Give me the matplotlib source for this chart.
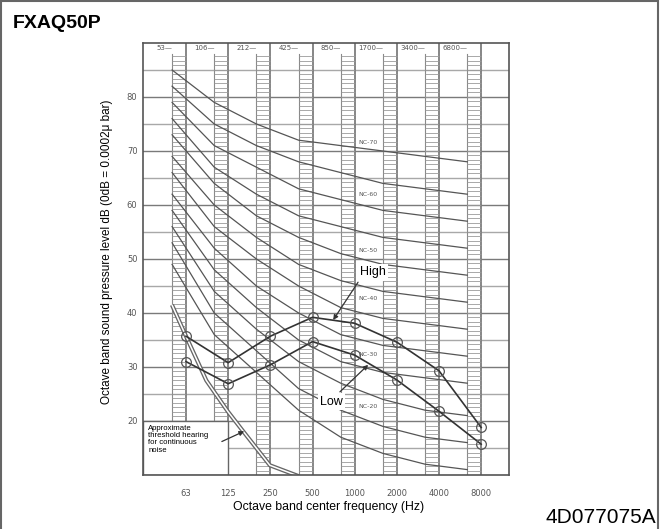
import matplotlib as mpl
mpl.use('Agg')
import matplotlib.pyplot as plt
from matplotlib.patches import Rectangle
import numpy as np

# octave band centre frequencies (Hz)
bands = ['63', '125', '250', '500', '1000', '2000', '4000', '8000']
band_edges = ['53', '106', '212', '425', '850', '1700', '3400', '6800']

# unit sound levels (dB)
high = [35.7, 30.8, 35.7, 39.2, 38.1, 34.6, 29.3, 18.8]
low = [31.0, 26.9, 30.4, 34.7, 32.2, 27.6, 21.8, 15.7]

# NC reference curves, one row per band value set
nc_names = [15, 20, 25, 30, 35, 40, 45, 50, 55, 60, 65, 70]
nc_values = [
    [49, 36, 29, 22, 17, 14, 12, 11],
    [53, 40, 33, 26, 22, 19, 17, 16],
    [56, 44, 37, 31, 27, 24, 22, 21],
    [59, 48, 41, 35, 31, 29, 28, 27],
    [62, 52, 45, 40, 36, 34, 33, 32],
    [66, 56, 50, 45, 41, 39, 38, 37],
    [69, 60, 54, 49, 46, 44, 43, 42],
    [73, 64, 58, 54, 51, 49, 48, 47],
    [76, 67, 62, 58, 56, 54, 53, 52],
    [79, 71, 67, 63, 61, 59, 58, 57],
    [82, 75, 71, 68, 66, 64, 63, 62],
    [85, 79, 75, 72, 71, 70, 69, 68],
]
nc_label_names = [70, 60, 50, 40, 30, 20]
nc_label_y = [71.6, 61.9, 51.6, 42.6, 32.3, 22.7]

# approximate threshold of hearing
thr_freq = [50, 63, 88, 125, 160, 250, 400]
thr_db = [41.5, 35.7, 27.5, 21.8, 18.2, 11.8, 9.8]

GREY = '#666666'
DARK = '#333333'
SANS = 'Liberation Sans'

fig = plt.figure(figsize=(6.64, 5.29), dpi=100)
ax = fig.add_axes([143/664, 1-475/529, 366/664, 432/529])

x = np.arange(len(bands))
sw = 0.33  # width of the hatched band strip
ax.set_xlim(-1.02, 7.66)
ax.set_ylim(10, 90)

# horizontal grid
for v in range(15, 90, 5):
    c = '#7a7a7a' if v % 10 == 0 else '#a8a8a8'
    ax.axhline(v, color=c, lw=1.0, zorder=1)

# band strips (ladders)
rungs = np.arange(10, 88, 5/6)
for i in x:
    ax.axvline(i, color=GREY, lw=1.1, zorder=2)
    ax.plot([i-sw, i-sw], [10, 88], color='#8a8a8a', lw=0.8, zorder=2)
    ax.hlines(rungs, i-sw, i, color='#9a9a9a', lw=0.6, zorder=2)
    ax.text(i-sw, 89, band_edges[i] + '\u2014', ha='right', va='center',
            fontsize=5, color='#555555', zorder=3)

# NC curves
for vals in nc_values:
    ax.plot(x - sw, vals, color='#555555', lw=0.9, zorder=3)
for n, yv in zip(nc_label_names, nc_label_y):
    ax.text(4.32, yv, 'NC-%d' % n, ha='center', va='center', fontsize=4.5,
            color='#555555', zorder=4,
            bbox=dict(fc='white', ec='none', pad=0.4))

# threshold of hearing (double line)
tx = np.log2(np.array(thr_freq) / 63.0)
ax.plot(tx, thr_db, color=GREY, lw=3.0, zorder=4, solid_capstyle='butt')
ax.plot(tx, thr_db, color='white', lw=1.1, zorder=4, solid_capstyle='butt')

# unit curves
for series in (high, low):
    ax.plot(x, series, color=DARK, lw=1.2, zorder=6)
    ax.plot(x, series, 'o', ms=7, mfc='none', mec='#555555', mew=0.9, zorder=7)

arrow = dict(arrowstyle='-|>', color=DARK, lw=0.9, mutation_scale=7,
             shrinkA=0, shrinkB=0)
ax.annotate('', xy=(3.49, 38.7), xytext=(4.08, 45.7), arrowprops=arrow, zorder=8)
ax.text(4.44, 47.5, 'High', ha='center', va='center', fontsize=9,
        family=SANS, zorder=9, bbox=dict(fc='white', ec='none', pad=1.5))
ax.annotate('', xy=(4.32, 30.4), xytext=(3.65, 25.4), arrowprops=arrow, zorder=8)
ax.text(3.44, 23.6, 'Low', ha='center', va='center', fontsize=9,
        family=SANS, zorder=9, bbox=dict(fc='white', ec='none', pad=1.5))

# threshold note box
ax.add_patch(Rectangle((-1.02, 10), 2.02, 10, fc='white', ec=GREY,
                       lw=1.0, zorder=9))
ax.text(-0.9, 19.3, 'Approximate\nthreshold hearing\nfor continuous\nnoise',
        ha='left', va='top', fontsize=5.6, family=SANS, linespacing=1.05,
        zorder=10)
ax.annotate('', xy=(1.38, 18.1), xytext=(0.85, 16.2), arrowprops=arrow, zorder=11)

# axes styling
for s in ax.spines.values():
    s.set_color('#555555')
    s.set_linewidth(1.2)
    s.set_zorder(12)
ax.set_xticks(x)
ax.set_xticklabels(bands)
ax.set_yticks(range(20, 90, 10))
ax.tick_params(length=0, labelsize=6, labelcolor='#555555')
ax.tick_params(axis='x', pad=10)
ax.tick_params(axis='y', pad=4)

fig.text(107/664, 1-252/529, 'Octave band sound pressure level dB (0dB = 0.0002\u03bc bar)',
         rotation=90, ha='center', va='center', fontsize=8.5, family=SANS)
fig.text(329/664, 1-507/529, 'Octave band center frequency (Hz)',
         ha='center', va='center', fontsize=8.8, family=SANS)
fig.text(13/664, 1-28/529, 'FXAQ50P', ha='left', va='baseline',
         fontsize=14, fontweight='bold', family=SANS)
fig.text(545/664, 1-527/529, '4D077075A', ha='left', va='bottom',
         fontsize=15, family=SANS)

fig.add_artist(Rectangle((0.002, -0.02), 0.989, 1.018, transform=fig.transFigure,
                         fill=False, ec=GREY, lw=1.5))

plt.savefig('out.png', dpi=100)
